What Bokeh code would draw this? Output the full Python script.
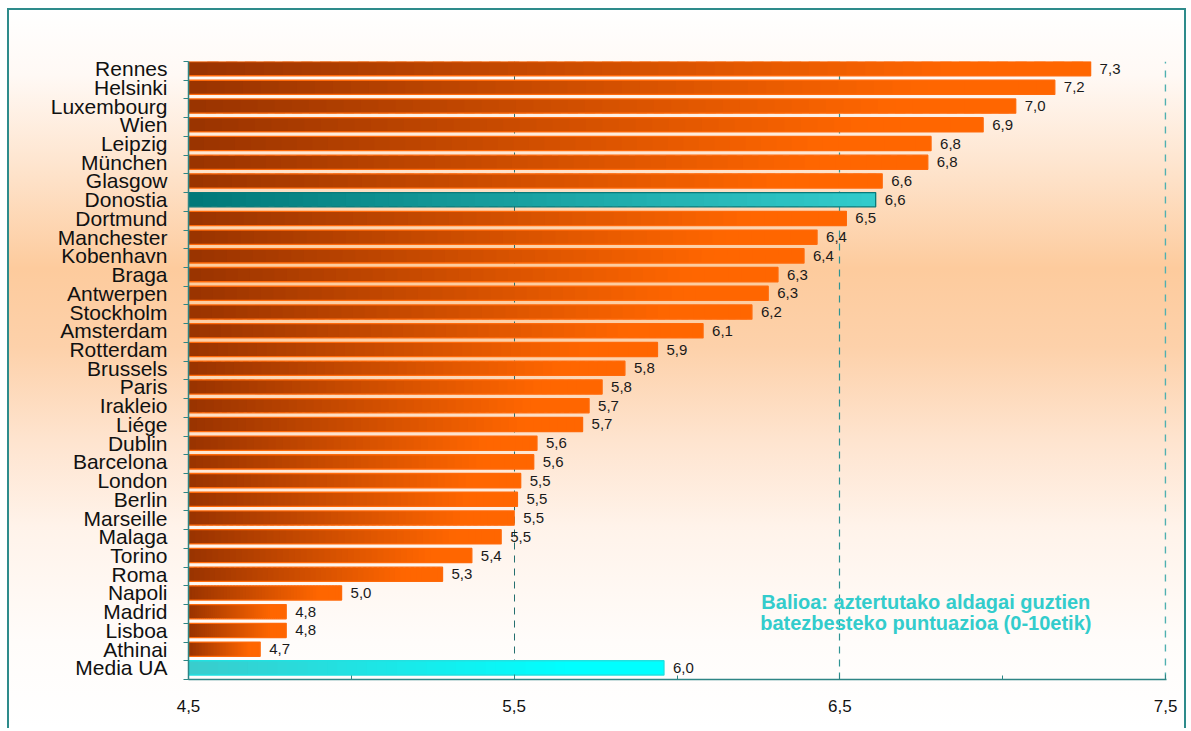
import numpy as np
from bokeh.plotting import figure
from bokeh.models import Range1d, FixedTicker, Label, Grid
from bokeh.embed import file_html
from bokeh.resources import INLINE
from bokeh.core.properties import value

# ---------------- data ----------------
cities = ["Rennes", "Helsinki", "Luxembourg", "Wien", "Leipzig", "München", "Glasgow",
          "Donostia", "Dortmund", "Manchester", "Kobenhavn", "Braga", "Antwerpen",
          "Stockholm", "Amsterdam", "Rotterdam", "Brussels", "Paris", "Irakleio", "Liége",
          "Dublin", "Barcelona", "London", "Berlin", "Marseille", "Malaga", "Torino",
          "Roma", "Napoli", "Madrid", "Lisboa", "Athinai", "Media UA"]
scores = [7.27, 7.16, 7.04, 6.94, 6.78, 6.77, 6.63,
          6.61, 6.52, 6.43, 6.39, 6.31, 6.28,
          6.23, 6.08, 5.94, 5.84, 5.77, 5.73, 5.71,
          5.57, 5.56, 5.52, 5.51, 5.50, 5.46, 5.37,
          5.28, 4.97, 4.80, 4.80, 4.72, 5.96]
x_ticks = [4.5, 5.5, 6.5, 7.5]
x_minor = [5.0, 6.0, 7.0]
note_lines = ["Balioa: aztertutako aldagai guztien",
              "batezbesteko puntuazioa (0-10etik)"]

# ---------------- layout helpers ----------------
X0, X1 = 4.5, 7.503
n = len(cities)
bar_h = 0.76
tops = [float(n - i) for i in range(n)]
centers = [t - bar_h / 2 for t in tops]

FONT = "Liberation Sans"
TEAL = "#2E8585"


def hex2rgb(h):
    h = h.lstrip("#")
    return np.array([int(h[i:i + 2], 16) for i in (0, 2, 4)], dtype=float)


def lerp(c0, c1, t):
    a, b = hex2rgb(c0), hex2rgb(c1)
    c = a + (b - a) * t
    return "#%02x%02x%02x" % tuple(int(round(x)) for x in c)


def style_for(city):
    if city == "Donostia":
        return "#007878", "#33CCCC", 1.0, "#0A7A7A"
    if city == "Media UA":
        return "#3ACCCC", "#00FFFF", 0.8, "#22E0E0"
    return "#993300", "#FF6600", 0.85, "#FF6A0A"


NSEG = 48
seg_left, seg_right, seg_y, seg_col = [], [], [], []
outline_cols = []
for city, v, c in zip(cities, scores, centers):
    c0, c1, knee, oc = style_for(city)
    outline_cols.append(oc)
    edges = np.linspace(X0, v, NSEG + 1)
    w = (v - X0) / NSEG
    for k in range(NSEG):
        t = min(1.0, ((k + 0.5) / NSEG) / knee)
        seg_left.append(edges[k])
        seg_right.append(edges[k + 1] + (0.6 * w if k < NSEG - 1 else 0.0))
        seg_y.append(c)
        seg_col.append(lerp(c0, c1, t))

# ---------------- figure ----------------
p = figure(width=1179, height=720, output_backend="svg", toolbar_location=None,
           x_range=Range1d(X0, X1), y_range=Range1d(0, n),
           min_border_left=179, min_border_right=22,
           min_border_top=51, min_border_bottom=51,
           background_fill_color=None, border_fill_color=None,
           outline_line_color=None)
p.styles = {
    "margin": "8px 0 0 7px",
    "background": "linear-gradient(to bottom, #FFFFFF 0%, #FFF9F5 9%, #FEE4CD 22%, "
                  "#FDCB9D 36%, #FDD1AA 47%, #FEE4CF 60%, #FFF3EA 72%, #FFFCFA 88%, #FFFFFF 100%)",
    "border-left": "2px solid #2E8B8B",
    "border-right": "2px solid #2E8B8B",
    "border-top": "2px solid #2E8B8B",
}

# grid
p.ygrid.grid_line_color = None
p.xgrid.ticker = FixedTicker(ticks=x_ticks[:2])
p.xgrid.grid_line_color = "#256F6F"
p.xgrid.grid_line_dash = "7 6"
p.xgrid.grid_line_width = 1
p.add_layout(Grid(dimension=0, ticker=FixedTicker(ticks=x_ticks[2:3]),
                  grid_line_color="#2F9494", grid_line_dash="7 6", grid_line_width=1.2))
p.add_layout(Grid(dimension=0, ticker=FixedTicker(ticks=x_ticks[3:]),
                  grid_line_color="#4FB0B0", grid_line_dash="7 7", grid_line_width=1.5))

# bars (gradient slices)
p.quad(left=seg_left, right=seg_right,
       bottom=[y - bar_h / 2 for y in seg_y], top=[y + bar_h / 2 for y in seg_y],
       fill_color=seg_col, line_color=None)
p.hbar(y=centers, left=X0, right=scores, height=bar_h,
       fill_color=None, line_color=outline_cols, line_width=1.3)

# value labels
labels = [("%.1f" % v).replace(".", ",") for v in scores]
p.text(x=scores, y=centers, text=labels, x_offset=9,
       text_baseline="middle", text_align="left",
       text_font=value(FONT), text_font_size="15px", text_color="#1A1A1A")

# note
for line, ly in zip(note_lines, [4.16, 3.04]):
    p.add_layout(Label(x=6.764, y=ly, text=line, text_align="center",
                       text_baseline="middle", text_font=FONT,
                       text_font_size="20px", text_font_style="bold",
                       text_color="#33CCCC"))

# x axis
xa = p.xaxis[0]
xa.ticker = FixedTicker(ticks=x_ticks, minor_ticks=x_minor)
xa.major_label_overrides = {t: ("%.1f" % t).replace(".", ",") for t in x_ticks}
xa.axis_line_color = TEAL
xa.axis_line_width = 1.5
xa.major_tick_line_color = TEAL
xa.major_tick_in = 5
xa.major_tick_out = 0
xa.minor_tick_line_color = TEAL
xa.minor_tick_in = 4
xa.minor_tick_out = 0
xa.major_label_text_font = FONT
xa.major_label_text_font_size = "17px"
xa.major_label_text_color = "#111111"
xa.major_label_standoff = 20

# y axis
ya = p.yaxis[0]
ya.ticker = FixedTicker(ticks=centers, minor_ticks=tops + [0.0])
ya.major_label_overrides = {c: name for c, name in zip(centers, cities)}
ya.axis_line_color = TEAL
ya.axis_line_width = 1.5
ya.major_tick_line_color = None
ya.major_tick_in = 0
ya.major_tick_out = 0
ya.minor_tick_line_color = TEAL
ya.minor_tick_in = 0
ya.minor_tick_out = 5
ya.major_label_text_font = FONT
ya.major_label_text_font_size = "21px"
ya.major_label_text_color = "#111111"
ya.major_label_standoff = 16

open("out.html", "w").write(file_html(p, INLINE))
